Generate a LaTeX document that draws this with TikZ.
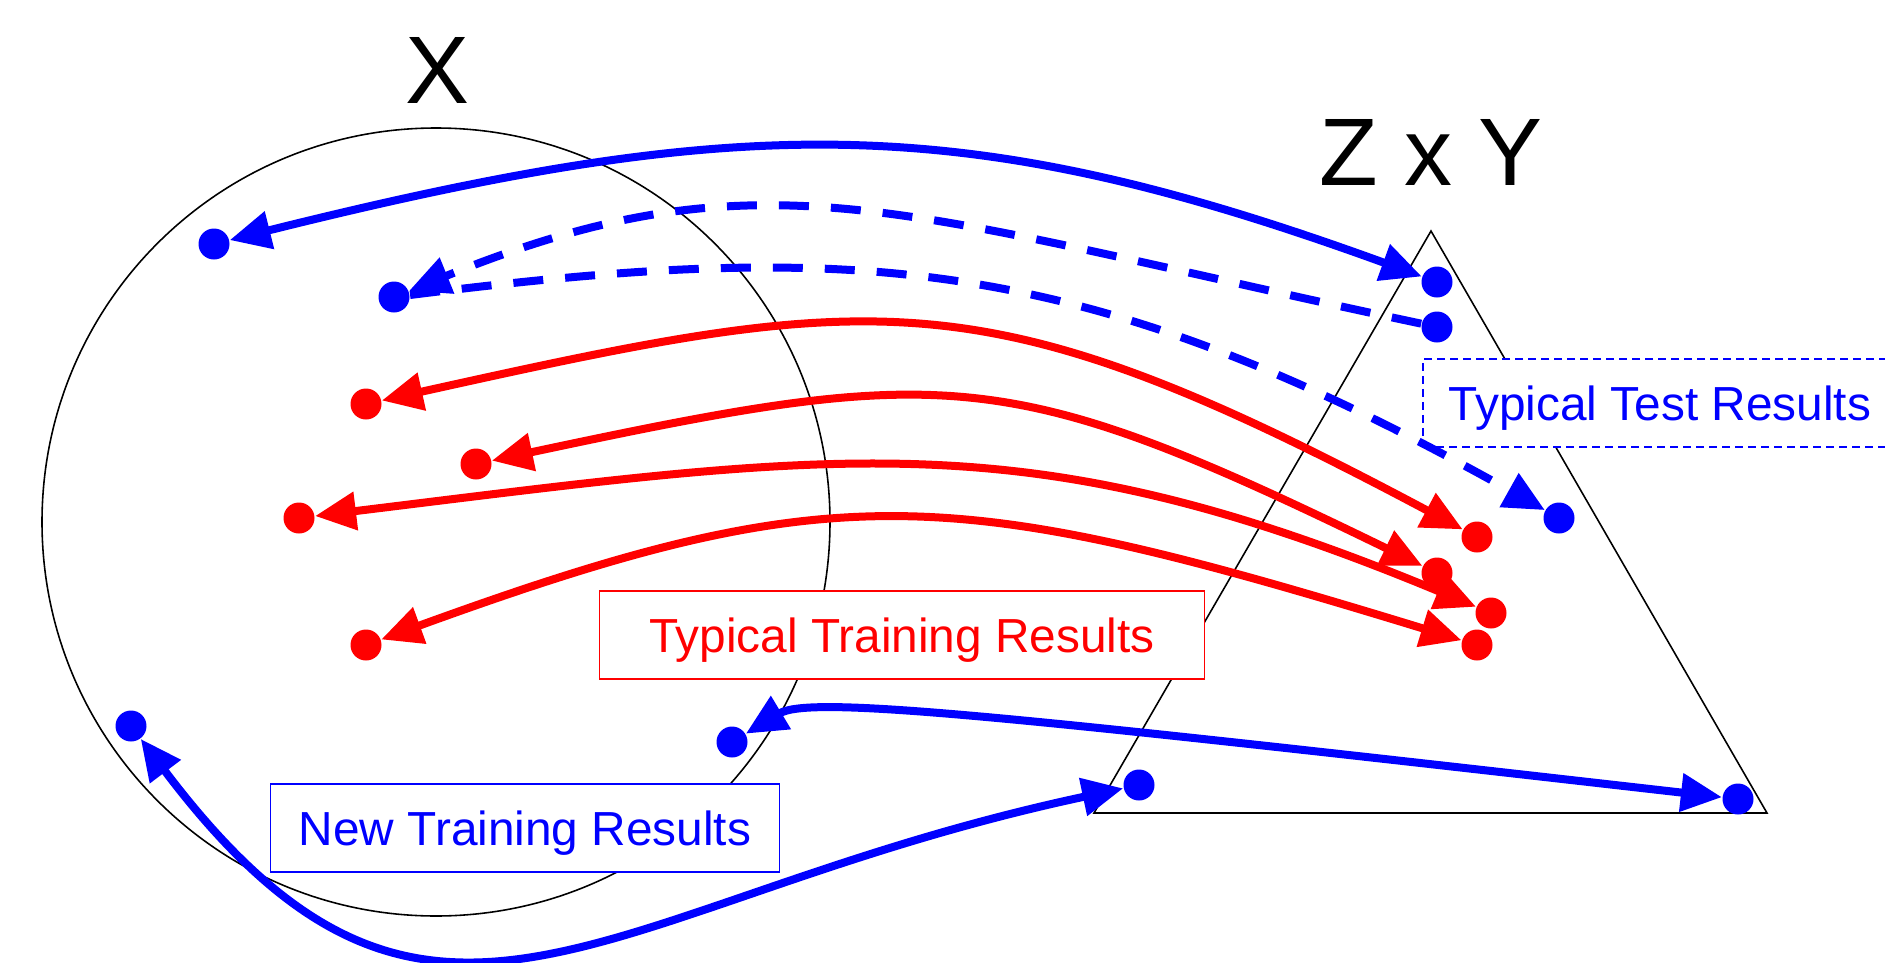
\documentclass[tikz,border=0pt]{standalone}
\usepackage{fontspec}
\setmainfont{Liberation Sans}
\usetikzlibrary{arrows.meta}
\definecolor{pblue}{RGB}{0,0,255}
\definecolor{pred}{RGB}{255,0,0}
\begin{document}
\begin{tikzpicture}[x=0.1mm,y=-0.1mm,
  >={Triangle[length=4.1mm,width=3.7mm]},
  dotb/.style={circle,fill=pblue,inner sep=0pt,minimum size=3.1mm},
  dotr/.style={circle,fill=pred,inner sep=0pt,minimum size=3.1mm},
  conn/.style={line width=0.8mm},
  twoway/.style={conn,<->},
  oneway/.style={conn,->},
  dashconn/.style={dash pattern=on 3mm off 2.2mm},
  resbox/.style={font=\fontsize{13.6}{16}\selectfont, text height=9.74pt, text depth=0pt,
    inner sep=0pt, fill=white, line width=0.5pt, minimum height=8.8mm},
  biglabel/.style={font=\fontsize{27.3}{32}\selectfont, inner sep=0pt},
  thin/.style={line width=0.45pt}
]
\path[use as bounding box] (0,0) rectangle (1885,963);
\clip (0,0) rectangle (1885,963);

% sets
\draw[thin] (436,522) circle[radius=39.4mm];
\draw[thin] (1431,231) -- (1767,813) -- (1094,813) -- cycle;

% titles
\node[biglabel, anchor=base] (xl) at (437,103) {X};
\node[biglabel, anchor=base] (zl) at (1431,185) {Z x Y};

% result boxes
\node[resbox, draw=pblue, text=pblue, dash pattern=on 0.8mm off 0.5mm, minimum width=47.4mm] (test) at (1660,403) {Typical Test Results};
\node[resbox, draw=pred, text=pred, minimum width=60.5mm] (train) at (902,635) {Typical Training Results};
\node[resbox, draw=pblue, text=pblue, minimum width=50.9mm] (newt) at (525,828) {New Training Results};

% points
\node[dotb] (b1) at (214,244) {};
\node[dotb] (b2) at (394,297) {};
\node[dotb] (t1) at (1437,282) {};
\node[dotb] (t2) at (1437,327) {};
\node[dotb] (t3) at (1559,518) {};
\node[dotr] (r1l) at (366,404) {};
\node[dotr] (r2l) at (476,464) {};
\node[dotr] (r3l) at (299,518) {};
\node[dotr] (r4l) at (366,645) {};
\node[dotr] (r1r) at (1477,537) {};
\node[dotr] (r2r) at (1437,573) {};
\node[dotr] (r3r) at (1491,613) {};
\node[dotr] (r4r) at (1477,645) {};
\node[dotb] (bl) at (131,726) {};
\node[dotb] (bm) at (732,742) {};
\node[dotb] (bt) at (1139,785) {};
\node[dotb] (br) at (1738,799) {};

% connectors
\draw[twoway, pblue] (b1) .. controls (748,111) and (967,111) .. (t1);
\draw[oneway, pblue, dashconn] (t2) .. controls (899,213) and (765,147) .. (b2);
\draw[oneway, pblue, dashconn] (b2) .. controls (850,240) and (1080,250) .. (t3);
\draw[twoway, pred] (r1l) .. controls (880,290) and (983,274) .. (r1r);
\draw[twoway, pred] (r2l) .. controls (946,364) and (1006,363) .. (r2r);
\draw[twoway, pred] (r3l) .. controls (845,451) and (1027,420) .. (r3r);
\draw[twoway, pred] (r4l) .. controls (836,474) and (951,484) .. (r4r);
\draw[twoway, pblue] (bm) .. controls (810,695) and (1000,715) .. (br);
\draw[twoway, pblue] (bl) .. controls (432,1125) and (600,900) .. (bt);
\end{tikzpicture}
\end{document}
